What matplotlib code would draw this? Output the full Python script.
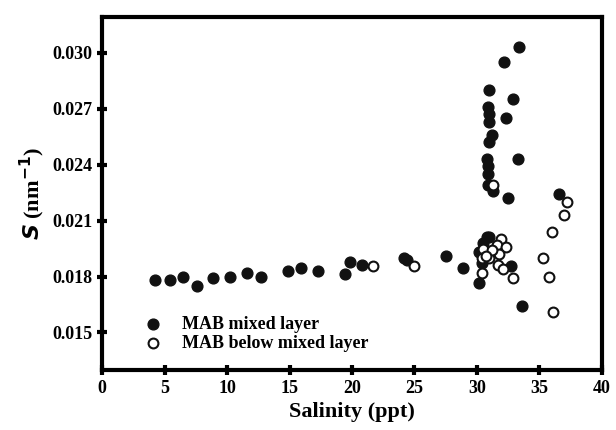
import numpy as np
import matplotlib
matplotlib.use('Agg')
import matplotlib.pyplot as plt
from matplotlib.ticker import MultipleLocator

plt.rcParams['font.family'] = 'Liberation Serif'
plt.rcParams['font.weight'] = 'bold'

# MAB mixed layer (filled)
mixed_sal = [4.2, 5.4, 6.5, 7.6, 8.9, 10.2, 11.6, 12.7, 14.9, 15.9, 17.3, 19.4, 19.8, 20.8,
             24.2, 24.4, 27.5, 28.9, 30.8, 31.0, 30.5, 30.2, 30.4, 30.2, 32.7, 33.6,
             33.4, 32.2, 31.0, 32.9, 30.9, 30.96, 32.3, 31.0, 31.2, 31.0, 33.3, 30.8,
             30.9, 30.9, 30.9, 31.3, 32.5, 36.6]
mixed_s = [0.0178, 0.0178, 0.01795, 0.01747, 0.0179, 0.0180, 0.0182, 0.01795, 0.0183, 0.01848,
           0.0183, 0.01816, 0.0188, 0.01864, 0.0190, 0.01886, 0.0191, 0.01848, 0.0201, 0.0201,
           0.0198, 0.0193, 0.0187, 0.01763, 0.01854, 0.0164,
           0.0303, 0.0295, 0.0280, 0.0275, 0.0271, 0.0267, 0.0265, 0.0263, 0.0256, 0.0252,
           0.0243, 0.0243, 0.0239, 0.0235, 0.0229, 0.0226, 0.0222, 0.0224]

# MAB below mixed layer (open)
below_sal = [21.7, 25.0, 31.3, 31.9, 31.6, 32.3, 30.5, 31.8, 30.4, 31.0, 31.2, 31.7, 32.1,
             30.4, 32.9, 35.3, 35.8, 36.1, 36.0, 37.0, 37.2, 30.7]
below_s = [0.01854, 0.01854, 0.0229, 0.0200, 0.0197, 0.0196, 0.0195, 0.0192, 0.0190, 0.0190,
           0.0194, 0.0186, 0.0184, 0.0182, 0.0179, 0.0190, 0.0180, 0.0161, 0.0204, 0.0213,
           0.0220, 0.0191]

fig = plt.figure(figsize=(6.16, 4.30), dpi=100)
ax = fig.add_axes([0.166, 0.14, 0.811, 0.82])

ax.scatter(mixed_sal, mixed_s, s=60, c='#111111', edgecolors='#111111', label='MAB mixed layer', zorder=3)
ax.scatter(below_sal, below_s, s=50, facecolors='white', edgecolors='#111111', linewidths=1.5,
           label='MAB below mixed layer', zorder=4)

ax.set_xlim(0, 40)
ax.set_ylim(0.0130, 0.0319)
ax.xaxis.set_major_locator(MultipleLocator(5))
ax.yaxis.set_major_locator(MultipleLocator(0.003))
ax.yaxis.set_major_formatter(matplotlib.ticker.FormatStrFormatter('%.3f'))
for sp in ax.spines.values():
    sp.set_linewidth(3)
ax.tick_params(direction='inout', length=7, width=3, labelsize=13)
ax.set_xlabel('Salinity (ppt)', fontsize=16, fontweight='bold')
ax.set_ylabel('$\\mathbf{\\mathit{S}}$ (nm$^{\\mathbf{-1}}$)', fontsize=16, fontweight='bold')
ax.legend(loc='lower left', frameon=False, fontsize=13, handletextpad=0.6,
          borderaxespad=0.6, labelspacing=0.1, bbox_to_anchor=(0.03, 0.0))

fig.savefig('out.png', dpi=100)
